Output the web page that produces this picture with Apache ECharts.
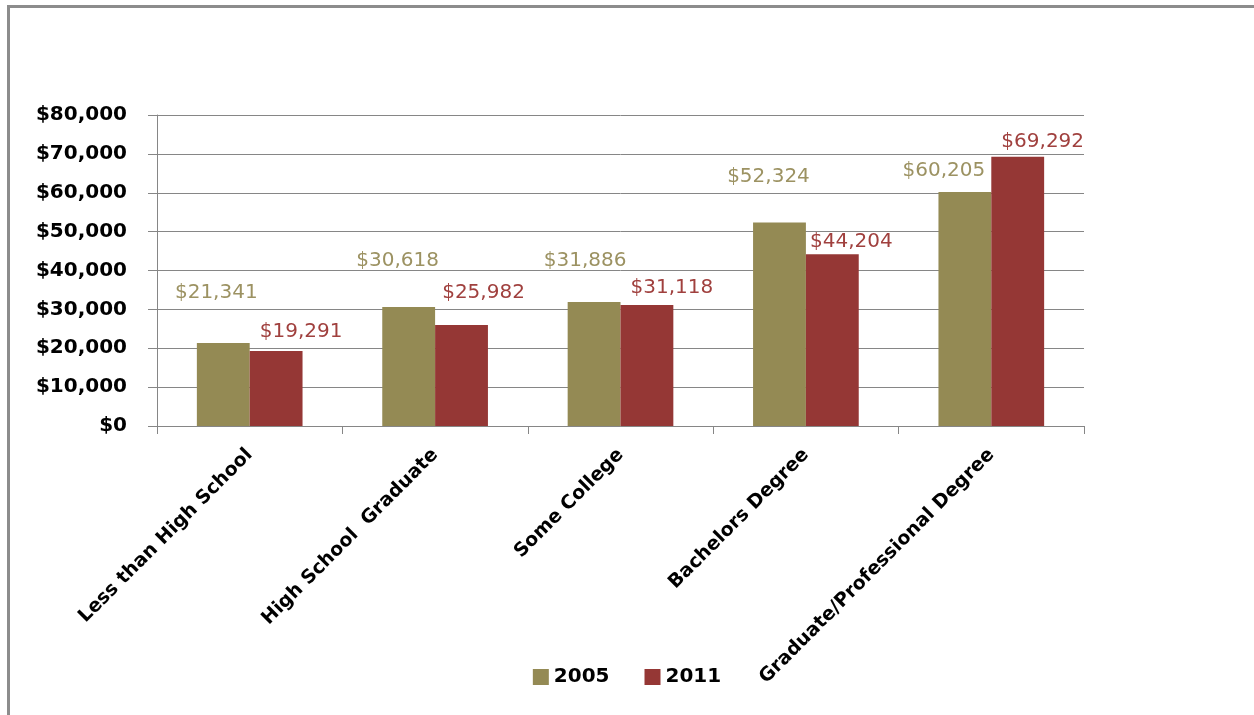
<!DOCTYPE html>
<html>
<head>
<meta charset="utf-8">
<script src="https://cdn.jsdelivr.net/npm/echarts@6/dist/echarts.min.js"></script>
<style>
  html, body { margin: 0; padding: 0; background: #fff; }
  #frame { position: absolute; left: 7px; top: 5px; right: 0; bottom: 0; border-top: 3px solid #8c8c8c; border-left: 3px solid #8c8c8c; }
  #chart { position: absolute; left: 0; top: 0; width: 1254px; height: 715px; }
</style>
</head>
<body>
<div id="frame"></div>
<div id="chart"></div>
<script>
// data
const categories = ["Less than High School", "High School  Graduate", "Some College", "Bachelors Degree", "Graduate/Professional Degree"];
const values2005 = [21341, 30618, 31886, 52324, 60205];
const values2011 = [19291, 25982, 31118, 44204, 69292];
const yTicks = [0, 10000, 20000, 30000, 40000, 50000, 60000, 70000, 80000];

// label nudges (the original labels were dragged by hand)
const nudge2005 = [[-7, -35], [-11, -31], [-9, -26], [-11, -31], [-21, -6]];
const nudge2011 = [[25, -4], [22, -17], [25, -2], [19, 3], [25, 0]];

const money = v => "$" + v.toLocaleString("en-US");
const font = "'DejaVu Sans', sans-serif";

function withLabels(vals, nudge) {
  return vals.map((v, i) => ({
    value: v,
    label: { offset: nudge[i] }
  }));
}

const chart = echarts.init(document.getElementById("chart"));
chart.setOption({
  animation: false,
  textStyle: { fontFamily: font },
  grid: { left: 157, right: 170, top: 115, bottom: 289 },
  legend: {
    bottom: 23,
    left: "center",
    icon: "rect",
    itemWidth: 16,
    itemHeight: 16,
    itemGap: 35,
    textStyle: { fontFamily: font, fontSize: 20, fontWeight: "bold", color: "#000" },
    data: ["2005", "2011"]
  },
  xAxis: {
    type: "category",
    data: categories,
    axisLine: { lineStyle: { color: "#868686", width: 1 } },
    axisTick: { show: true, length: 8, lineStyle: { color: "#868686" } },
    axisLabel: {
      rotate: 45,
      interval: 0,
      margin: 26,
      fontFamily: font,
      fontSize: 19,
      fontWeight: "bold",
      color: "#000"
    }
  },
  yAxis: {
    type: "value",
    min: yTicks[0],
    max: yTicks[yTicks.length - 1],
    interval: yTicks[1] - yTicks[0],
    axisLine: { show: true, lineStyle: { color: "#868686", width: 1 } },
    axisTick: { show: true, length: 9, lineStyle: { color: "#868686" } },
    splitLine: { lineStyle: { color: "#868686", width: 1 } },
    axisLabel: {
      margin: 30,
      fontFamily: font,
      fontSize: 20,
      fontWeight: "bold",
      color: "#000",
      formatter: money
    }
  },
  series: [
    {
      name: "2005",
      type: "bar",
      data: withLabels(values2005, nudge2005),
      barGap: "0%",
      barCategoryGap: "43%",
      itemStyle: { color: "#948a54" },
      label: {
        show: true,
        position: "top",
        fontFamily: font,
        fontSize: 20,
        color: "#9c9262",
        formatter: p => money(p.value)
      }
    },
    {
      name: "2011",
      type: "bar",
      data: withLabels(values2011, nudge2011),
      barGap: "0%",
      barCategoryGap: "43%",
      itemStyle: { color: "#953735" },
      label: {
        show: true,
        position: "top",
        fontFamily: font,
        fontSize: 20,
        color: "#a0403e",
        formatter: p => money(p.value)
      }
    }
  ]
});
</script>
</body>
</html>
